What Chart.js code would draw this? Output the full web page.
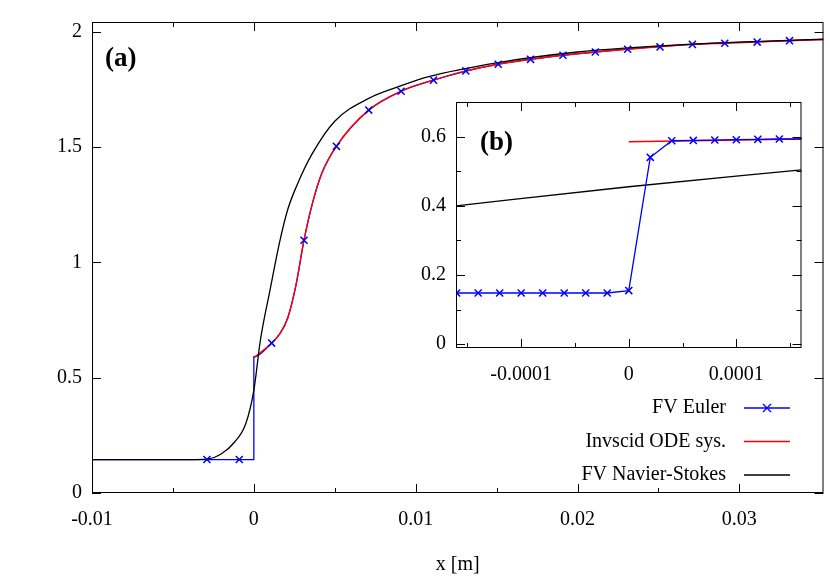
<!DOCTYPE html>
<html lang="en">
<head>
<meta charset="UTF-8">
<title>Shock profile</title>
<script src="https://cdn.jsdelivr.net/npm/chart.js"></script>
<style>
	body, html { margin: 0; padding: 0; background: #fff; }
	#wrap { position: relative; width: 830px; height: 581px; }
	#mainChart { position: absolute; left: 0; top: 0; }
	#insetChart { position: absolute; left: 400px; top: 80px; }
</style>
</head>
<body>
<div id="wrap">
	<canvas id="mainChart" width="830" height="581"></canvas>
	<canvas id="insetChart" width="408" height="317"></canvas>
</div>
<script>
// ---- main panel (a) data ----
const eulerMarkX = [-0.0029, -0.0009, 0.0011, 0.0031, 0.0051, 0.0071, 0.0091, 0.0111, 0.0131, 0.0151, 0.0171, 0.0191, 0.0211, 0.0231, 0.0251, 0.0271, 0.0291, 0.0311, 0.0331];
const eulerMarkY = [0.145, 0.145, 0.65, 1.096, 1.503, 1.66, 1.742, 1.79, 1.83, 1.859, 1.88, 1.898, 1.912, 1.924, 1.934, 1.945, 1.95, 1.955, 1.961];
const eulerLineX = [-0.01, 0, 0, 0.0011, 0.0016, 0.0021, 0.0026, 0.0031, 0.0036, 0.0042, 0.0051, 0.0071, 0.0091, 0.0111, 0.0151, 0.0211, 0.0271, 0.0331, 0.0352];
const eulerLineY = [0.145, 0.145, 0.59, 0.65, 0.69, 0.76, 0.9, 1.096, 1.25, 1.386, 1.503, 1.66, 1.742, 1.79, 1.859, 1.912, 1.945, 1.961, 1.966];
const odeX = [0, 0.0011, 0.0016, 0.0021, 0.0026, 0.0031, 0.0036, 0.0042, 0.0051, 0.0071, 0.0091, 0.0111, 0.0131, 0.0151, 0.0171, 0.0191, 0.0211, 0.0231, 0.0251, 0.0271, 0.0291, 0.0311, 0.0331, 0.0352];
const odeY = [0.586, 0.65, 0.69, 0.76, 0.9, 1.096, 1.25, 1.386, 1.503, 1.66, 1.742, 1.79, 1.83, 1.859, 1.88, 1.898, 1.912, 1.924, 1.934, 1.945, 1.95, 1.955, 1.961, 1.966];
const nsX = [-0.01, -0.004, -0.0029, -0.002, -0.0012, -0.0005, 0, 0.0004, 0.001, 0.0016, 0.0021, 0.0027, 0.0036, 0.005, 0.0071, 0.0092, 0.0108, 0.015, 0.02, 0.025, 0.03, 0.0352];
const nsY = [0.145, 0.145, 0.147, 0.17, 0.22, 0.3, 0.445, 0.66, 0.88, 1.09, 1.23, 1.34, 1.47, 1.612, 1.711, 1.768, 1.805, 1.865, 1.912, 1.938, 1.955, 1.968];
const mainXTicks = [-0.01, 0, 0.01, 0.02, 0.03];
const mainXMinor = [-0.005, 0.005, 0.015, 0.025];
const mainYTicks = [0, 0.5, 1, 1.5, 2];

// ---- inset (b) data ----
const inEulerX = [-0.00016, -0.00014, -0.00012, -0.0001, -0.00008, -0.00006, -0.00004, -0.00002, 0, 0.00002, 0.00004, 0.00006, 0.00008, 0.0001, 0.00012, 0.00014];
const inEulerY = [0.148, 0.148, 0.148, 0.148, 0.148, 0.148, 0.148, 0.148, 0.155, 0.54, 0.588, 0.589, 0.59, 0.591, 0.592, 0.593];
const inOdeX = [0, 0.0001606];
const inOdeY = [0.585, 0.593];
const inNsX = [-0.0001606, 0, 0.0001606];
const inNsY = [0.40, 0.455, 0.504];
const inXTicks = [-0.0001, 0, 0.0001];
const inXMinor = [-0.00015, -0.00005, 0.00005, 0.00015];
const inYTicks = [0, 0.2, 0.4, 0.6];
const inYMinor = [0.1, 0.3, 0.5];

const legendNames = ['FV Euler', 'Invscid ODE sys.', 'FV Navier-Stokes'];
const FONT = '"Liberation Serif", "DejaVu Serif", serif';

function pts(xs, ys) { return xs.map((x, i) => ({x: x, y: ys[i]})); }

// inward ticks on all four sides, plus panel label and legend
const framePlugin = {
	id: 'frame',
	afterDraw(chart, args, o) {
		const c = chart.ctx, a = chart.chartArea, sx = chart.scales.x, sy = chart.scales.y;
		c.save();
		c.strokeStyle = '#000';
		c.lineWidth = 1;
		const tick = (vals, len, horiz) => vals.forEach(v => {
			c.beginPath();
			if (horiz) {
				const p = Math.round(sx.getPixelForValue(v)) + 0.5;
				c.moveTo(p, a.bottom); c.lineTo(p, a.bottom - len);
				c.moveTo(p, a.top); c.lineTo(p, a.top + len);
			} else {
				const p = Math.round(sy.getPixelForValue(v)) + 0.5;
				c.moveTo(a.left, p); c.lineTo(a.left + len, p);
				c.moveTo(a.right, p); c.lineTo(a.right - len, p);
			}
			c.stroke();
		});
		tick(o.xMajor, 9, true); tick(o.xMinor, 5, true);
		tick(o.yMajor, 9, false); tick(o.yMinor, 5, false);
		c.strokeRect(a.left + 0.5, a.top + 0.5, a.right - a.left - 1, a.bottom - a.top - 1);
		c.fillStyle = '#000';
		c.font = 'bold 27px ' + FONT;
		c.fillText(o.label, a.left + o.labelDx, a.top + o.labelDy);
		if (o.legend) {
			c.font = '20px ' + FONT;
			c.textAlign = 'right';
			c.textBaseline = 'middle';
			const cols = ['#0000ff', '#ff0000', '#000000'];
			legendNames.forEach((n, i) => {
				const y = 408 + i * 33.5;
				c.fillText(n, 726, y);
				c.strokeStyle = cols[i];
				c.lineWidth = 1.3;
				c.beginPath(); c.moveTo(744, y); c.lineTo(790, y); c.stroke();
				if (i === 0) {
					c.beginPath();
					c.moveTo(763, y - 4); c.lineTo(771, y + 4);
					c.moveTo(763, y + 4); c.lineTo(771, y - 4);
					c.stroke();
				}
			});
		}
		c.restore();
	}
};

function axis(min, max, ticks, fmt, width, isX) {
	return {
		type: 'linear', min: min, max: max,
		grid: { display: false, drawTicks: false },
		border: { display: false },
		afterBuildTicks: s => { s.ticks = ticks.map(v => ({value: v})); },
		afterFit: s => { if (isX) s.height = width; else s.width = width; },
		ticks: { color: '#000', font: { family: FONT, size: 20 }, padding: isX ? 15 : 10, callback: fmt, maxRotation: 0 }
	};
}

const eulerStyle = { borderColor: '#0000ff', borderWidth: 1.3, pointStyle: 'crossRot', pointRadius: 5, pointBorderWidth: 1.5, pointBorderColor: '#0000ff' };

new Chart(document.getElementById('mainChart'), {
	type: 'scatter',
	data: {
		datasets: [
			{ data: pts(eulerLineX, eulerLineY), showLine: true, borderColor: '#0000ff', borderWidth: 1.3, pointRadius: 0, cubicInterpolationMode: 'monotone', order: 4 },
			Object.assign({ data: pts(eulerMarkX, eulerMarkY), showLine: false, order: 1 }, eulerStyle),
			{ data: pts(odeX, odeY), showLine: true, borderColor: '#ff0000', borderWidth: 1.4, pointRadius: 0, cubicInterpolationMode: 'monotone', order: 3 },
			{ data: pts(nsX, nsY), showLine: true, borderColor: '#000000', borderWidth: 1.3, pointRadius: 0, cubicInterpolationMode: 'monotone', order: 2 }
		]
	},
	options: {
		responsive: false, animation: false,
		layout: { padding: { top: 2, right: 3, left: 0, bottom: 0 } },
		plugins: {
			legend: { display: false }, tooltip: { enabled: false },
			frame: { xMajor: mainXTicks, xMinor: mainXMinor, yMajor: mainYTicks, yMinor: [], label: '(a)', labelDx: 13, labelDy: 44, legend: true }
		},
		scales: {
			x: Object.assign(axis(-0.01, 0.0352, mainXTicks, v => String(+v.toFixed(4)), 88, true),
				{ title: { display: true, text: 'x [m]', color: '#000', font: { family: FONT, size: 20 }, padding: { top: 12 } } }),
			y: axis(0, 2.042, mainYTicks, v => String(+v.toFixed(2)), 92, false)
		}
	},
	plugins: [framePlugin]
});

new Chart(document.getElementById('insetChart'), {
	type: 'scatter',
	data: {
		datasets: [
			Object.assign({ data: pts(inEulerX.concat([0.0001606]), inEulerY.concat([0.593])), showLine: true, order: 1 },
				eulerStyle, { pointRadius: inEulerX.map(() => 5).concat([0]) }),
			{ data: pts(inOdeX, inOdeY), showLine: true, borderColor: '#ff0000', borderWidth: 1.4, pointRadius: 0, order: 3 },
			{ data: pts(inNsX, inNsY), showLine: true, borderColor: '#000000', borderWidth: 1.3, pointRadius: 0, cubicInterpolationMode: 'monotone', order: 2 }
		]
	},
	options: {
		responsive: false, animation: false,
		layout: { padding: { top: 7, right: 2, left: 0, bottom: 0 } },
		plugins: {
			legend: { display: false }, tooltip: { enabled: false },
			frame: { xMajor: inXTicks, xMinor: inXMinor, yMajor: inYTicks, yMinor: inYMinor, label: '(b)', labelDx: 24, labelDy: 48, legend: false }
		},
		scales: {
			x: axis(-0.0001606, 0.0001606, inXTicks, v => String(+v.toFixed(5)), 49, true),
			y: axis(-0.011, 0.70, inYTicks, v => String(+v.toFixed(1)), 56, false)
		}
	},
	plugins: [framePlugin, { id: 'bg', beforeDraw(ch) {
		const a = ch.chartArea;
		ch.ctx.save(); ch.ctx.fillStyle = '#fff';
		ch.ctx.fillRect(a.left - 50, a.top, a.right - a.left + 50, ch.height - a.top);
		ch.ctx.restore();
	} }]
});
</script>
</body>
</html>
